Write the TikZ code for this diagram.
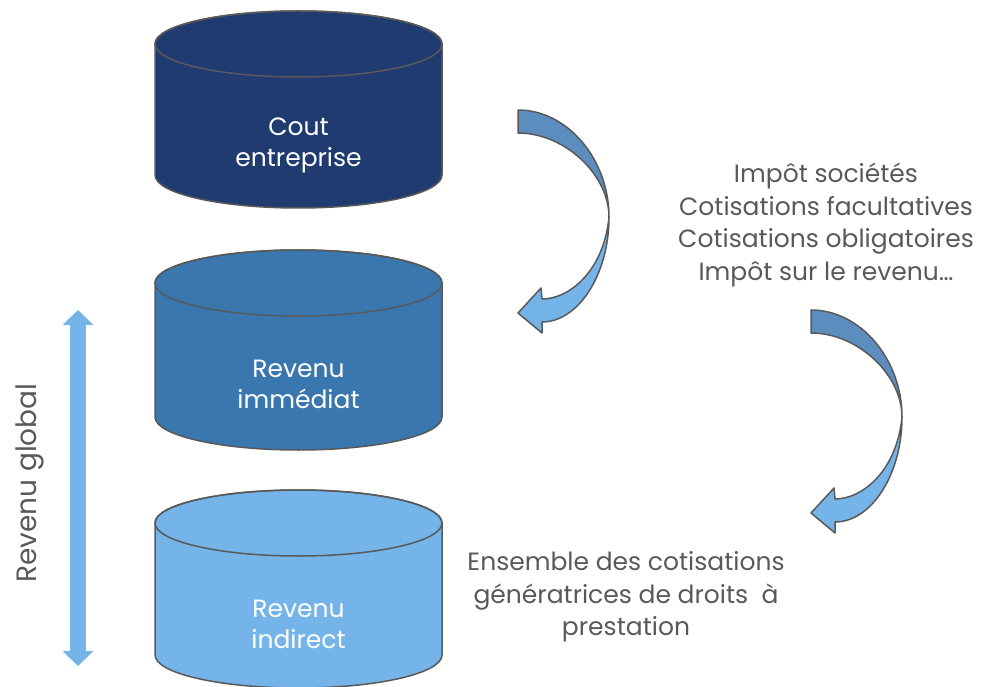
\documentclass[tikz,border=0pt]{standalone}
\usepackage{fontspec}
\setmainfont{Poppins}
\usetikzlibrary{arrows.meta}
\definecolor{navy}{HTML}{1F3B70}
\definecolor{midblue}{HTML}{3A77AF}
\definecolor{lightblue}{HTML}{74B4E8}
\definecolor{bandblue}{HTML}{5B8DBF}
\definecolor{edgegray}{HTML}{595959}

\begin{document}
\begin{tikzpicture}[x=1pt, y=1pt,
    drumlabel/.style={align=center, text=white, font=\fontsize{25}{31}\selectfont},
    sidetext/.style={align=center, text=edgegray, font=\fontsize{25}{32.5}\selectfont},
    outline/.style={draw=edgegray, line width=1.5pt, line join=round},
    curvedarrow/.pic={
        \filldraw[outline, fill=lightblue] (91,-107) .. controls (91,-165) and (60,-212) .. (24,-212) -- (24,-223) -- (0,-203) -- (23,-178) -- (24,-189) .. controls (52,-189) and (86,-160) .. (91,-107) -- cycle;
        \filldraw[outline, fill=bandblue] (0,0) .. controls (50,0) and (91,-50) .. (91,-107) .. controls (91,-65) and (47,-23) .. (0,-23) -- cycle;
    }]
    \useasboundingbox (0,0) rectangle (981,686);

    % Three drums
    \foreach \yt/\yb/\col in {642/511/navy, 403/269/midblue, 163/31/lightblue} {
        \filldraw[outline, fill=\col] (155,\yt) -- (155,\yb) arc[start angle=180, end angle=360, x radius=143.5pt, y radius=33pt] -- (442,\yt) arc[start angle=0, end angle=180, x radius=143.5pt, y radius=33pt] -- cycle;
        \draw[outline] (298.5,\yt) ellipse[x radius=143.5pt, y radius=33pt];
    }
    \node[drumlabel] (cout) at (298.5,541) {Cout\\entreprise};
    \node[drumlabel] (immediat) at (298.5,302) {Revenu\\immédiat};
    \node[drumlabel] (indirect) at (298.5,62) {Revenu\\indirect};

    % Deductions
    \pic at (518,576) {curvedarrow};
    \node[sidetext] (prelevements) at (826,461) {Impôt sociétés\\Cotisations facultatives\\Cotisations obligatoires\\Impôt sur le revenu…};
    \pic at (811,376) {curvedarrow};
    \node[sidetext] (droits) at (626,89) {Ensemble des cotisations\\génératrices de droits\ \ à\\prestation};

    % Revenu global
    \coordinate (gtop) at (78,376);
    \coordinate (gbot) at (78,20);
    \draw[lightblue, line width=16pt, {Triangle[width=30pt,length=15pt]}-{Triangle[width=30pt,length=15pt]}] (gtop) -- (gbot);
    \node[sidetext, rotate=90, font=\fontsize{28}{32}\selectfont] (global) at (30,203) {Revenu global};
\end{tikzpicture}
\end{document}
